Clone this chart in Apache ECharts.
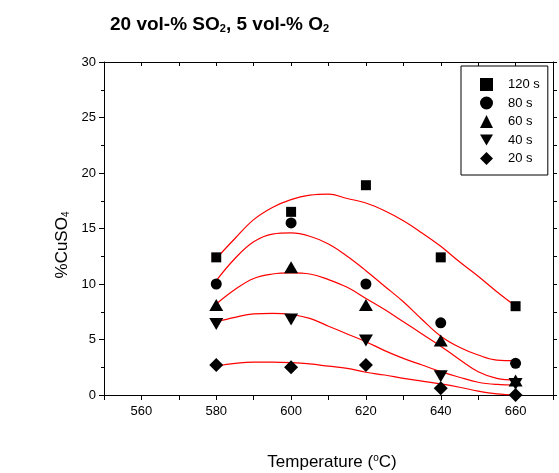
<!DOCTYPE html>
<html>
<head>
<meta charset="utf-8">
<script src="https://cdn.jsdelivr.net/npm/echarts@6/dist/echarts.min.js"></script>
<style>
  html, body { margin: 0; padding: 0; background: #fff; }
  #chart { width: 559px; height: 473px; }
</style>
</head>
<body>
<div id="chart"></div>
<script>
const FONT = "'Liberation Sans', Arial, sans-serif";

// measured points
const temps = [580, 600, 620, 640, 660];
const s120 = [12.4, 16.5, 18.9, 12.4, 8.0];
const s80 = [10.0, 15.5, 10.0, 6.5, 2.85];
const s60 = [8.1, 11.5, 8.1, 4.9, 1.3];
const s40 = [6.4, 6.8, 4.9, 1.7, 1.0];
const s20 = [2.7, 2.5, 2.7, 0.6, 0.0];

// fitted curves, every 5 degrees
const fitTemps = [580, 585, 590, 595, 600, 605, 610, 615, 620, 625, 630, 635, 640, 645, 650, 655, 660];
const fit120 = [12.3, 14.1, 15.8, 16.9, 17.6, 18.0, 18.1, 17.7, 17.3, 16.6, 15.7, 14.6, 13.4, 12.0, 10.7, 9.3, 8.0];
const fit80 = [10.3, 12.3, 13.8, 14.5, 14.6, 14.3, 13.6, 12.5, 11.2, 9.8, 8.4, 6.8, 5.3, 4.3, 3.6, 3.15, 3.1];
const fit60 = [8.2, 9.5, 10.5, 10.9, 11.0, 10.9, 10.4, 9.7, 8.7, 7.7, 6.6, 5.5, 4.4, 3.2, 2.1, 1.5, 1.35];
const fit40 = [6.6, 7.0, 7.3, 7.35, 7.25, 6.9, 6.2, 5.5, 4.8, 4.0, 3.3, 2.7, 2.1, 1.6, 1.15, 0.95, 0.9];
const fit20 = [2.6, 2.85, 2.97, 2.97, 2.92, 2.8, 2.6, 2.4, 2.05, 1.8, 1.5, 1.25, 1.0, 0.7, 0.35, 0.1, 0.0];

const seriesNames = ['120 s', '80 s', '60 s', '40 s', '20 s'];
const xLabels = [560, 580, 600, 620, 640, 660];

const pairs = (xs, ys) => xs.map((x, i) => [x, ys[i]]);

const downTri = 'path://M0,0L14,0L7,12Z';
const markers = [
  { data: s120, symbol: 'rect', size: 10, icon: 'rect' },
  { data: s80, symbol: 'circle', size: 11, icon: 'circle' },
  { data: s60, symbol: 'triangle', size: [14, 12], icon: 'triangle' },
  { data: s40, symbol: downTri, size: [14, 12], icon: downTri },
  { data: s20, symbol: 'diamond', size: [14, 14], icon: 'diamond' },
];
const fits = [fit120, fit80, fit60, fit40, fit20];

const series = [];
fits.forEach((f) => {
  series.push({
    type: 'line',
    data: pairs(fitTemps, f),
    smooth: 0.4,
    showSymbol: false,
    silent: true,
    lineStyle: { color: '#ff0000', width: 1.2 },
    z: 1,
  });
});
markers.forEach((m, i) => {
  series.push({
    name: seriesNames[i],
    type: 'scatter',
    data: pairs(temps, m.data),
    symbol: m.symbol,
    symbolSize: m.size,
    itemStyle: { color: '#000', opacity: 1 },
    z: 3,
  });
});

const chart = echarts.init(document.getElementById('chart'));
chart.setOption({
  animation: false,
  backgroundColor: '#fff',
  textStyle: { fontFamily: FONT },
  title: {
    text: '{b|20 vol-% SO}{s|2}{b|, 5 vol-% O}{s|2}',
    left: 105,
    top: 10,
    textStyle: {
      rich: {
        b: { fontFamily: FONT, fontWeight: 'bold', fontSize: 19, color: '#000' },
        s: { fontFamily: FONT, fontWeight: 'bold', fontSize: 11, color: '#000', verticalAlign: 'bottom', padding: [8, 0, 0, 0] },
      },
    },
  },
  legend: {
    data: seriesNames.map((n, i) => ({ name: n, icon: markers[i].icon })),
    orient: 'vertical',
    left: 461,
    top: 66,
    itemWidth: 13,
    itemHeight: 13,
    itemGap: 5.5,
    padding: [12, 8, 10, 19],
    borderColor: '#000',
    borderWidth: 1,
    itemStyle: { color: '#000', opacity: 1 },
    textStyle: { fontFamily: FONT, fontSize: 13, color: '#000', padding: [0, 0, 0, 10] },
  },
  grid: { left: 104, right: 6, top: 62, bottom: 78 },
  xAxis: [
    {
      type: 'value',
      min: 550,
      max: 670,
      interval: 10,
      axisLine: { onZero: false, lineStyle: { color: '#000', width: 1 } },
      axisTick: { inside: false, length: 5, lineStyle: { color: '#000' } },
      axisLabel: {
        color: '#000',
        fontSize: 13,
        margin: 10,
        formatter: (v) => (xLabels.includes(v) ? String(v) : ''),
      },
      splitLine: { show: false },
    },
    {
      type: 'value',
      position: 'top',
      min: 550,
      max: 670,
      interval: 10,
      axisLine: { onZero: false, lineStyle: { color: '#000', width: 1 } },
      axisTick: { inside: true, length: 4, lineStyle: { color: '#000' } },
      axisLabel: { show: false },
      splitLine: { show: false },
    },
  ],
  yAxis: [
    {
      type: 'value',
      min: 0,
      max: 30,
      interval: 5,
      axisLine: { onZero: false, lineStyle: { color: '#000', width: 1 } },
      axisTick: { inside: false, length: 5, lineStyle: { color: '#000' } },
      minorTick: { show: true, splitNumber: 2, length: 3, lineStyle: { color: '#000' } },
      axisLabel: { color: '#000', fontSize: 13, margin: 8 },
      splitLine: { show: false },
    },
    {
      type: 'value',
      position: 'right',
      min: 0,
      max: 30,
      interval: 2.5,
      axisLine: { onZero: false, lineStyle: { color: '#000', width: 1 } },
      axisTick: { inside: false, length: 4, lineStyle: { color: '#000' } },
      axisLabel: { show: false },
      splitLine: { show: false },
    },
  ],
  graphic: [
    {
      type: 'text',
      x: 62,
      y: 245,
      rotation: Math.PI / 2,
      style: {
        text: '{n|%CuSO}{s|4}',
        align: 'center',
        verticalAlign: 'middle',
        rich: {
          n: { fontFamily: FONT, fontSize: 17, fill: '#000' },
          s: { fontFamily: FONT, fontSize: 10, fill: '#000', verticalAlign: 'bottom', padding: [8, 0, 0, 0] },
        },
      },
    },
    {
      type: 'text',
      x: 332,
      y: 462,
      style: {
        text: '{n|Temperature (}{p|o}{n|C)}',
        align: 'center',
        verticalAlign: 'middle',
        rich: {
          n: { fontFamily: FONT, fontSize: 17, fill: '#000' },
          p: { fontFamily: FONT, fontSize: 10, fill: '#000', verticalAlign: 'top', padding: [0, 0, 8, 0] },
        },
      },
    },
  ],
  series: series,
});
</script>
</body>
</html>
